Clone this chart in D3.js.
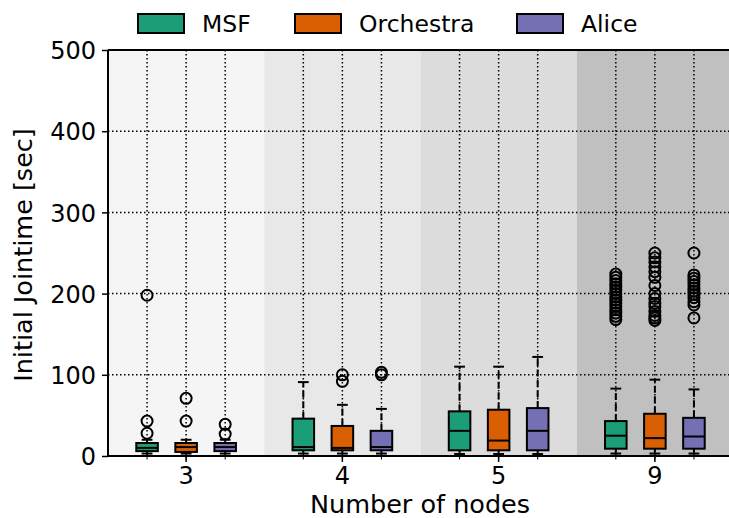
<!DOCTYPE html>
<html>
<head>
<meta charset="utf-8">
<script src="https://cdn.jsdelivr.net/npm/d3@7"></script>
<style>
  html, body { margin: 0; padding: 0; background: #fff; }
  svg { display: block; font-family: "DejaVu Sans", sans-serif; }
</style>
</head>
<body>
<svg id="chart" width="729" height="518"></svg>
<script>
// Node counts on the x axis and the three systems compared
const groups = ["3", "4", "5", "9"];
const series = ["MSF", "Orchestra", "Alice"];
const colors = ["#1b9e77", "#d95f02", "#7570b3"];
const bandColors = ["#f5f5f5", "#e8e8e8", "#dcdcdc", "#c0c0c0"];
const yTicks = [0, 100, 200, 300, 400, 500];

// Box statistics per node count: [lower whisker, q1, median, q3, upper whisker]
const msfStats = [[3, 6, 10, 16, 20], [3, 7, 11, 46, 91], [2.5, 7, 31, 55, 110], [3, 9, 25, 43, 83]];
const orchestraStats = [[3, 5, 11, 16, 20], [3, 7, 10, 37, 63], [2.5, 7, 19, 57, 110], [3, 9, 22, 52, 94]];
const aliceStats = [[3, 6, 11, 16, 20], [3, 7, 11, 31, 58], [2.5, 7, 31, 59, 122], [3, 9, 24, 47, 82]];

// Outliers per node count
const msfOutliers = [[198, 43, 28], [], [],
  [224, 220, 216, 212, 208, 204, 200, 196, 192, 188, 184, 180, 176, 172, 168]];
const orchestraOutliers = [[71, 43], [100, 92], [],
  [250, 244, 239, 233, 227, 220, 210, 200, 194, 188, 184, 178, 173, 170, 167]];
const aliceOutliers = [[39, 27], [103, 100], [],
  [250, 223, 219, 215, 211, 207, 203, 199, 195, 190, 186, 170]];

const stats = [msfStats, orchestraStats, aliceStats];
const outliers = [msfOutliers, orchestraOutliers, aliceOutliers];

const svg = d3.select("#chart");
const plotLeft = 108, plotRight = 733, plotTop = 50, plotBottom = 456;

const x = d3.scaleBand().domain(groups).range([plotLeft, plotRight]).padding(0);
const offset = d3.scalePoint().domain(series).range([-0.25, 0.25]);
const y = d3.scaleLinear().domain([0, 500]).range([plotBottom, plotTop]);

const boxX = (g, s) => x(g) + x.bandwidth() / 2 + offset(s) * x.bandwidth();
const boxW = x.bandwidth() * 0.138;

// Shaded background per node count
svg.append("g").selectAll("rect").data(groups).join("rect")
  .attr("x", d => x(d)).attr("y", plotTop)
  .attr("width", x.bandwidth()).attr("height", plotBottom - plotTop)
  .attr("fill", (d, i) => bandColors[i]);

// Dotted grid: horizontal at y ticks, vertical at each box position
const grid = svg.append("g").attr("stroke", "#000").attr("stroke-width", 1.5)
  .attr("stroke-dasharray", "1.5,2.5");
yTicks.filter(v => v > 0 && v < 500).forEach(v => {
  grid.append("line").attr("x1", plotLeft).attr("x2", plotRight).attr("y1", y(v)).attr("y2", y(v));
});
groups.forEach(g => series.forEach(s => {
  grid.append("line").attr("x1", boxX(g, s)).attr("x2", boxX(g, s)).attr("y1", plotTop).attr("y2", plotBottom);
}));

// Boxes, whiskers, caps, medians and outliers
const marks = svg.append("g");
series.forEach((s, si) => {
  groups.forEach((g, gi) => {
    const [lo, q1, med, q3, hi] = stats[si][gi];
    const cx = boxX(g, s);
    const gg = marks.append("g");
    gg.append("line").attr("x1", cx).attr("x2", cx).attr("y1", y(q3)).attr("y2", y(hi))
      .attr("stroke", "#000").attr("stroke-width", 2).attr("stroke-dasharray", "7,3.5");
    gg.append("line").attr("x1", cx).attr("x2", cx).attr("y1", y(q1)).attr("y2", y(lo))
      .attr("stroke", "#000").attr("stroke-width", 2).attr("stroke-dasharray", "7,3.5");
    [lo, hi].forEach(v => {
      gg.append("line").attr("x1", cx - boxW / 4).attr("x2", cx + boxW / 4)
        .attr("y1", y(v)).attr("y2", y(v)).attr("stroke", "#000").attr("stroke-width", 2);
    });
    gg.append("rect").attr("x", cx - boxW / 2).attr("y", y(q3))
      .attr("width", boxW).attr("height", y(q1) - y(q3))
      .attr("fill", colors[si]).attr("stroke", "#000").attr("stroke-width", 2);
    gg.append("line").attr("x1", cx - boxW / 2).attr("x2", cx + boxW / 2)
      .attr("y1", y(med)).attr("y2", y(med)).attr("stroke", "#000").attr("stroke-width", 2);
    gg.selectAll("circle").data(outliers[si][gi]).join("circle")
      .attr("cx", cx).attr("cy", d => y(d)).attr("r", 5.5)
      .attr("fill", "none").attr("stroke", "#000").attr("stroke-width", 2);
  });
});

// Axes
const yAxis = d3.axisLeft(y).tickValues(yTicks).tickSize(6).tickPadding(6);
const yg = svg.append("g").attr("transform", `translate(${plotLeft},0)`).call(yAxis);
yg.select(".domain").attr("stroke-width", 2).attr("d", `M0,${plotTop}V${plotBottom}`);
yg.selectAll(".tick line").attr("stroke-width", 1.5);
yg.selectAll("text").attr("font-size", 24).attr("fill", "#000")
  .attr("font-family", "DejaVu Sans").attr("dy", "0.36em");

const xAxis = d3.axisBottom(x).tickSize(6).tickPadding(5);
const xg = svg.append("g").attr("transform", `translate(0,${plotBottom})`).call(xAxis);
xg.select(".domain").attr("stroke-width", 2).attr("d", `M${plotLeft},0H${plotRight}`);
xg.selectAll(".tick line").attr("stroke-width", 1.5);
xg.selectAll("text").attr("font-size", 24).attr("fill", "#000").attr("font-family", "DejaVu Sans");
// minor ticks at each box position
groups.forEach(g => series.forEach(s => {
  xg.append("line").attr("x1", boxX(g, s)).attr("x2", boxX(g, s)).attr("y1", 0).attr("y2", 3.5)
    .attr("stroke", "#000").attr("stroke-width", 1);
}));

// Top spine
svg.append("line").attr("x1", plotLeft).attr("x2", plotRight).attr("y1", plotTop).attr("y2", plotTop)
  .attr("stroke", "#000").attr("stroke-width", 2);

// Axis titles
svg.append("text").attr("x", 420).attr("y", 513).attr("text-anchor", "middle")
  .attr("font-size", 25.5).text("Number of nodes");
svg.append("text").attr("transform", "translate(32,255) rotate(-90)")
  .attr("text-anchor", "middle").attr("font-size", 25.5).text("Initial Jointime [sec]");

// Legend
const legendX = [138, 295, 517];
const legend = svg.append("g");
series.forEach((s, i) => {
  legend.append("rect").attr("x", legendX[i]).attr("y", 14).attr("width", 46).attr("height", 19)
    .attr("fill", colors[i]).attr("stroke", "#000").attr("stroke-width", 2);
  legend.append("text").attr("x", legendX[i] + 64).attr("y", 32)
    .attr("font-size", 23.5).text(s);
});
</script>
</body>
</html>
